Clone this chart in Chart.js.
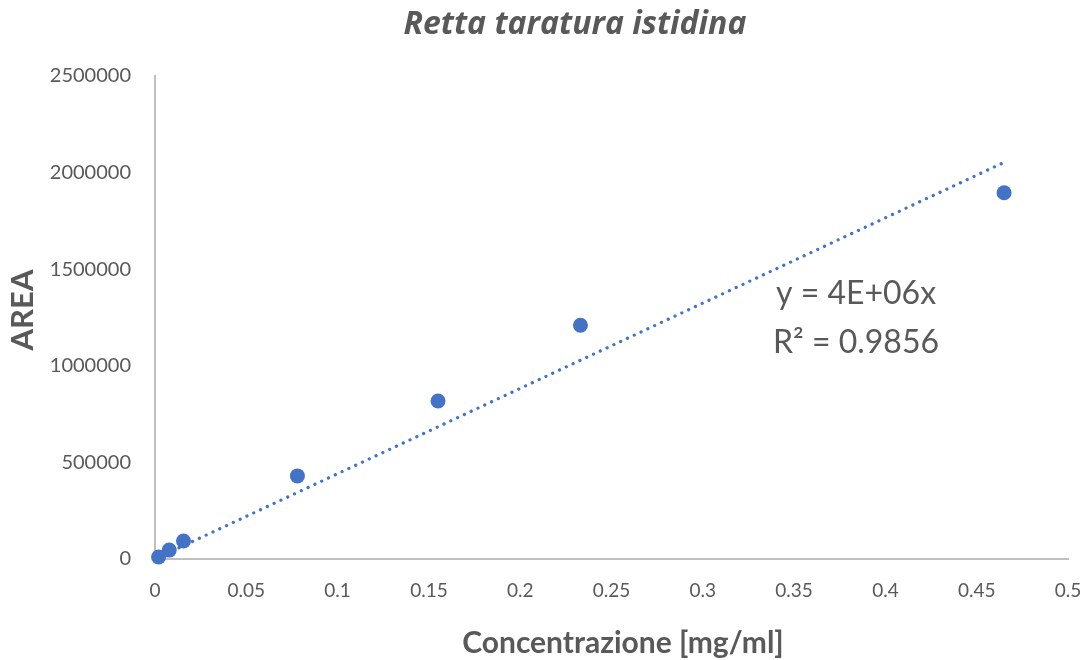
<!DOCTYPE html>
<html>
<head>
<meta charset="utf-8">
<title>Retta taratura istidina</title>
<script src="https://cdn.jsdelivr.net/npm/chart.js@4/dist/chart.umd.min.js"></script>
<style>
    html, body { margin: 0; padding: 0; background: #ffffff; }
    #wrap { width: 1089px; height: 660px; position: relative; }
</style>
</head>
<body>
<div id="wrap"><canvas id="calibrationChart"></canvas></div>
<script>
// Standard: concentrazione [mg/ml] e area del picco
const concentrations = [0.00195, 0.0078, 0.0156, 0.078, 0.155, 0.233, 0.465];
const areas = [10000, 46000, 93000, 430000, 818000, 1210000, 1896000];

// Linea di tendenza (estremi)
const trendX = [0.00195, 0.465];
const trendY = [8600, 2053000];

const xTicks = [0, 0.05, 0.1, 0.15, 0.2, 0.25, 0.3, 0.35, 0.4, 0.45, 0.5];
const yTicks = [0, 500000, 1000000, 1500000, 2000000, 2500000];

const chartTitle = 'Retta taratura istidina';
const xTitle = 'Concentrazione [mg/ml]';
const yTitle = 'AREA';
const equationLines = ['y = 4E+06x', 'R² = 0.9856'];

const textColor = '#595959';
const markerColor = '#4472C4';
const axisColor = '#BFBFBF';
const fontFamily = 'Lato, "Open Sans", sans-serif';

// Titoli ed equazione disegnati a mano
const labelsPlugin = {
    id: 'labelsPlugin',
    afterDraw(chart) {
        const ctx = chart.ctx;
        ctx.save();
        ctx.fillStyle = textColor;
        ctx.textAlign = 'center';
        ctx.textBaseline = 'alphabetic';
        ctx.font = 'italic bold 32px "Open Sans", sans-serif';
        ctx.fillText(chartTitle, 575, 34);

        ctx.font = 'bold 30px ' + fontFamily;
        ctx.fillText(xTitle, 623, 653);

        ctx.save();
        ctx.translate(33, 310);
        ctx.rotate(-Math.PI / 2);
        ctx.font = 'bold 31px ' + fontFamily;
        ctx.fillText(yTitle, 0, 0);
        ctx.restore();

        ctx.textAlign = 'left';
        ctx.font = '32px ' + fontFamily;
        ctx.fillText(equationLines[0], 776, 304);
        ctx.fillText(equationLines[1], 773, 353);
        ctx.restore();
    }
};

const ctx = document.getElementById('calibrationChart').getContext('2d');

new Chart(ctx, {
    type: 'scatter',
    data: {
        datasets: [{
            label: 'Lineare',
            data: trendX.map((x, i) => ({ x: x, y: trendY[i] })),
            showLine: true,
            pointRadius: 0,
            borderColor: markerColor,
            borderWidth: 3.2,
            borderDash: [0.1, 7.4],
            borderCapStyle: 'round',
            order: 2
        }, {
            label: 'AREA',
            data: concentrations.map((c, i) => ({ x: c, y: areas[i] })),
            pointRadius: 7.5,
            pointBackgroundColor: markerColor,
            pointBorderColor: markerColor,
            pointBorderWidth: 0,
            clip: false,
            order: 1
        }]
    },
    options: {
        responsive: true,
        maintainAspectRatio: false,
        animation: false,
        layout: {
            padding: { top: 76, right: 21, bottom: 0, left: 0 }
        },
        plugins: {
            legend: { display: false },
            tooltip: { enabled: false },
            title: { display: false }
        },
        scales: {
            x: {
                type: 'linear',
                min: 0,
                max: 0.5,
                afterBuildTicks(scale) {
                    scale.ticks = xTicks.map(v => ({ value: v }));
                },
                afterFit(scale) {
                    scale.height = 101;
                    scale.paddingLeft = 0;
                    scale.paddingRight = 0;
                },
                grid: { display: false },
                border: { display: true, color: axisColor, width: 2 },
                ticks: {
                    color: textColor,
                    font: { family: fontFamily, size: 19 },
                    padding: 12,
                    maxRotation: 0,
                    callback: v => String(Number(v.toFixed(2)))
                }
            },
            y: {
                type: 'linear',
                min: 0,
                max: 2500000,
                afterBuildTicks(scale) {
                    scale.ticks = yTicks.map(v => ({ value: v }));
                },
                afterFit(scale) {
                    scale.width = 155;
                    scale.paddingTop = 0;
                    scale.paddingBottom = 0;
                },
                grid: { display: false },
                border: { display: true, color: axisColor, width: 2 },
                ticks: {
                    color: textColor,
                    font: { family: fontFamily, size: 20 },
                    padding: 16,
                    callback: v => String(v)
                }
            }
        }
    },
    plugins: [labelsPlugin]
});
</script>
</body>
</html>
